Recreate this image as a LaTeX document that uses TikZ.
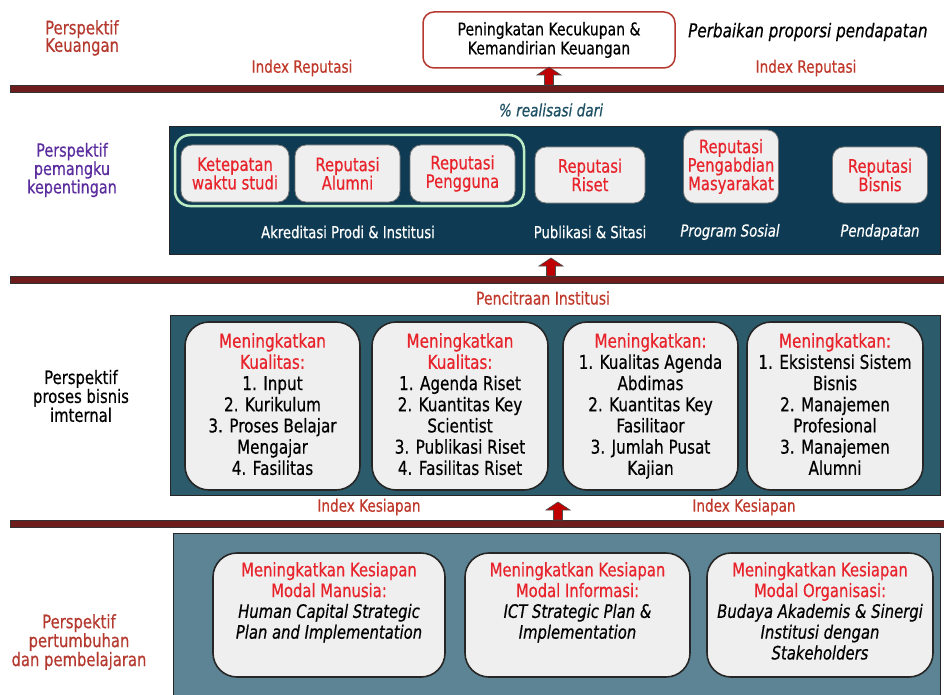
\documentclass[tikz,border=0pt]{standalone}
\usepackage{fontspec}
\setmainfont[FakeStretch=0.8,FakeBold=0.5]{DejaVu Sans}
\definecolor{keu}{HTML}{B5392F}
\definecolor{idx}{HTML}{C0392B}
\definecolor{purp}{HTML}{5B2D9E}
\definecolor{tred}{HTML}{E8232B}
\definecolor{panA}{HTML}{0E3B53}
\definecolor{panB}{HTML}{2C5B6C}
\definecolor{panC}{HTML}{5D8494}
\definecolor{boxf}{HTML}{EFEFEF}
\definecolor{grn}{HTML}{BDEBC4}
\definecolor{tealt}{HTML}{1E5064}
\definecolor{barc}{HTML}{6E1C1C}
\definecolor{arrred}{HTML}{C00000}
\newcommand{\rt}[1]{\textcolor{tred}{#1}}
\tikzset{
  panel/.style={draw=black!85, line width=1pt},
  bigbox/.style={draw=black!85, line width=1.6pt, fill=boxf, rounded corners=24pt, inner sep=0pt},
  smallbox/.style={draw=black!55, line width=0.8pt, fill=boxf, rounded corners=11pt, inner sep=0pt, align=center, text=tred, font=\fontsize{18.5}{18.5}\selectfont},
  lefttxt/.style={align=center, inner sep=0pt, font=\fontsize{18.5}{17.5}\selectfont},
  idxtxt/.style={text=idx, font=\fontsize{17}{17}\selectfont},
  undtxt/.style={text=white, font=\fontsize{16.5}{16.5}\selectfont},
  bodytxt/.style={align=center, anchor=north, inner sep=0pt, font=\fontsize{19}{21.2}\selectfont},
  bar/.style={fill=barc, draw=black!80, line width=0.6pt},
  uparr/.pic={\filldraw[fill=arrred, draw=black!70, line width=0.6pt] (-4.5,0) -- (-4.5,-10) -- (-12,-10) -- (0,-18) -- (12,-10) -- (4.5,-10) -- (4.5,0) -- cycle;}
}
\begin{document}
\begin{tikzpicture}[x=1pt,y=-1pt]
\useasboundingbox (0,0) rectangle (944,695);
\fill[white] (0,0) rectangle (944,695);
% ---------- financial ----------
\node[lefttxt, align=left, anchor=north west, text=keu] (lkeu) at (45,20) {Perspektif\\Keuangan};
\node[draw=keu, line width=1.5pt, rounded corners=11pt, fill=white, minimum width=252, minimum height=56, align=center, font=\fontsize{17.5}{19}\selectfont] (topbox) at (549,40) {Peningkatan Kecukupan \&\\Kemandirian Keuangan};
\node[anchor=west, inner sep=0pt, font=\itshape\fontsize{19}{19}\selectfont] (perb) at (688,32) {Perbaikan proporsi pendapatan};
\node[idxtxt] (ir1) at (302,68) {Index Reputasi};
\node[idxtxt] (ir2) at (806,68) {Index Reputasi};
\draw[bar] (10,85) rectangle (944,92);
\pic at (549,85) {uparr};
% ---------- stakeholder ----------
\node[text=tealt, font=\itshape\fontsize{17}{17}\selectfont] (real) at (551,110) {\% realisasi dari};
\node[lefttxt, text=purp, font=\fontsize{18}{16.5}\selectfont] (lpem) at (72,170) {Perspektif\\pemangku\\kepentingan};
\draw[panel, fill=panA] (169,127) rectangle (940,254);
\draw[draw=grn, line width=2.5pt, rounded corners=15pt] (175,135) rectangle (524,206);
\node[smallbox, minimum width=108, minimum height=57] (k1) at (235,173.5) {Ketepatan\\waktu studi};
\node[smallbox, minimum width=105, minimum height=57] (k2) at (347.5,173.5) {Reputasi\\Alumni};
\node[smallbox, minimum width=105, minimum height=57] (k3) at (462.5,173.5) {Reputasi\\Pengguna};
\node[smallbox, minimum width=110, minimum height=56] (k4) at (590,175) {Reputasi\\Riset};
\node[smallbox, minimum width=95, minimum height=73] (k5) at (731,166.5) {Reputasi\\Pengabdian\\Masyarakat};
\node[smallbox, minimum width=95, minimum height=56] (k6) at (880,175) {Reputasi\\Bisnis};
\node[undtxt] (u1) at (348,232) {Akreditasi Prodi \& Institusi};
\node[undtxt] (u2) at (590,232) {Publikasi \& Sitasi};
\node[undtxt, font=\itshape\fontsize{16.5}{16.5}\selectfont] (u3) at (730,232) {Program Sosial};
\node[undtxt, font=\itshape\fontsize{16.5}{16.5}\selectfont] (u4) at (880,232) {Pendapatan};
\draw[bar] (10,276) rectangle (944,283);
\pic at (551,276) {uparr};
% ---------- internal process ----------
\node[text=idx, font=\fontsize{17.5}{17.5}\selectfont] (penc) at (543,298) {Pencitraan Institusi};
\node[lefttxt, text=black] (lpro) at (81,396) {Perspektif\\proses bisnis\\imternal};
\draw[panel, fill=panB] (170,315) rectangle (940,495);
\node[bigbox, minimum width=175, minimum height=168] (b1) at (272.5,406) {};
\node[bigbox, minimum width=176, minimum height=168] (b2) at (460,406) {};
\node[bigbox, minimum width=175, minimum height=168] (b3) at (650.5,406) {};
\node[bigbox, minimum width=176, minimum height=168] (b4) at (835,406) {};
\node[bodytxt] (t1) at (b1.north |- 0,333) {\rt{Meningkatkan}\\\rt{Kualitas:}\\1. Input\\2. Kurikulum\\3. Proses Belajar\\Mengajar\\4. Fasilitas};
\node[bodytxt] (t2) at (b2.north |- 0,333) {\rt{Meningkatkan}\\\rt{Kualitas:}\\1. Agenda Riset\\2. Kuantitas Key\\Scientist\\3. Publikasi Riset\\4. Fasilitas Riset};
\node[bodytxt] (t3) at (b3.north |- 0,333) {\rt{Meningkatkan:}\\1. Kualitas Agenda\\Abdimas\\2. Kuantitas Key\\Fasilitaor\\3. Jumlah Pusat\\Kajian};
\node[bodytxt] (t4) at (b4.north |- 0,333) {\rt{Meningkatkan:}\\1. Eksistensi Sistem\\Bisnis\\2. Manajemen\\Profesional\\3. Manajemen\\Alumni};
\node[idxtxt] (ik1) at (369,507) {Index Kesiapan};
\node[idxtxt] (ik2) at (744,507) {Index Kesiapan};
\draw[bar] (10,520) rectangle (944,527);
\pic at (558,520) {uparr};
% ---------- learning & growth ----------
\node[lefttxt, text=keu, font=\fontsize{18.5}{17.5}\selectfont] (lper) at (79,642) {Perspektif\\pertumbuhan\\dan pembelajaran};
\draw[panel, fill=panC] (173,533) rectangle (940,700);
\node[bigbox, minimum width=232, minimum height=124] (c1) at (329,615) {};
\node[bigbox, minimum width=225, minimum height=124] (c2) at (577.5,615) {};
\node[bigbox, minimum width=226, minimum height=124] (c3) at (820,615) {};
\node[bodytxt, font=\fontsize{18.5}{20.8}\selectfont] (s1) at (c1.north |- 0,562) {\rt{Meningkatkan Kesiapan}\\\rt{Modal Manusia:}\\\textit{Human Capital Strategic}\\\textit{Plan and Implementation}};
\node[bodytxt, font=\fontsize{18.5}{20.8}\selectfont] (s2) at (c2.north |- 0,562) {\rt{Meningkatkan Kesiapan}\\\rt{Modal Informasi:}\\\textit{ICT Strategic Plan \&}\\\textit{Implementation}};
\node[bodytxt, font=\fontsize{18.5}{20.8}\selectfont] (s3) at (c3.north |- 0,562) {\rt{Meningkatkan Kesiapan}\\\rt{Modal Organisasi:}\\\textit{Budaya Akademis \& Sinergi}\\\textit{Institusi dengan}\\\textit{Stakeholders}};
\end{tikzpicture}
\end{document}
